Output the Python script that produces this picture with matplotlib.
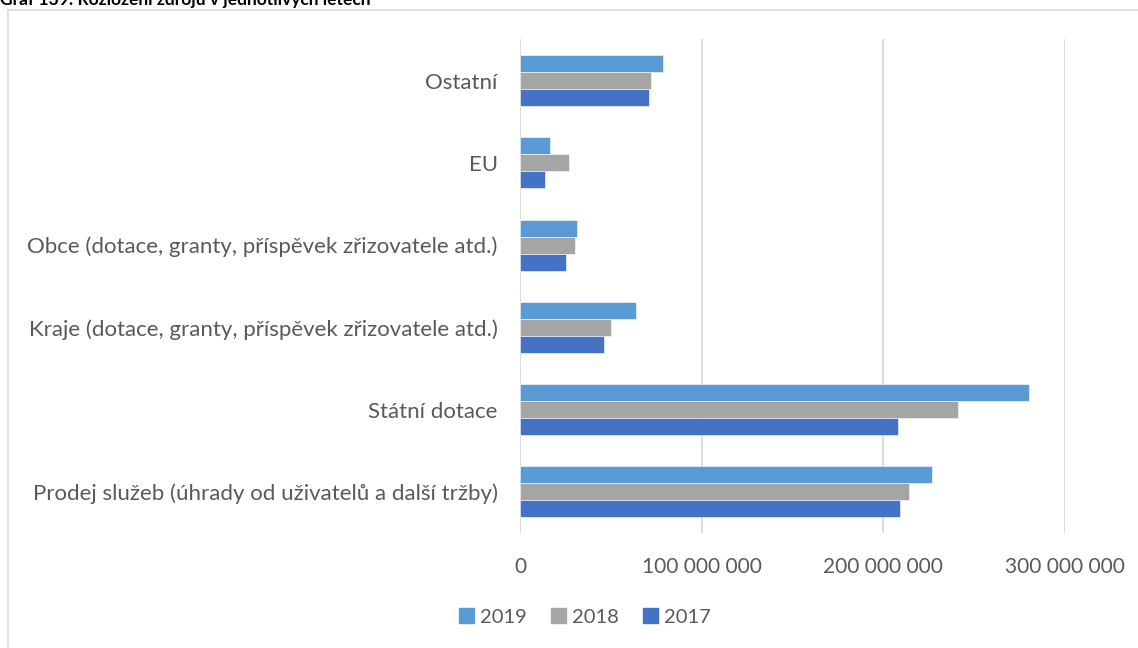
import numpy as np
import matplotlib
matplotlib.use("Agg")
import matplotlib.pyplot as plt
import matplotlib.patches as mpatches
import matplotlib.ticker as plticker

# data
categories = ["Prodej služeb (úhrady od uživatelů a další tržby)",
              "Státní dotace",
              "Kraje (dotace, granty, příspěvek zřizovatele atd.)",
              "Obce (dotace, granty, příspěvek zřizovatele atd.)",
              "EU",
              "Ostatní"]
years = ["2019", "2018", "2017"]
vals_2019 = [226.6e6, 280.1e6, 63.9e6, 31.2e6, 16.3e6, 78.6e6]
vals_2018 = [214.2e6, 241.3e6, 50.0e6, 30.1e6, 27.1e6, 72.2e6]
vals_2017 = [209.3e6, 208.1e6, 46.3e6, 25.3e6, 14.0e6, 70.9e6]
colors = {"2019": "#5B9BD5", "2018": "#A5A5A5", "2017": "#4472C4"}

plt.rcParams['font.family'] = ['Lato', 'DejaVu Sans']
txtcol = "#595959"

W, H = 1138, 648
fig = plt.figure(figsize=(W/100, H/100), dpi=100)

# chart frame
fig.patches.append(mpatches.Rectangle((8/W, -0.1), 1.2, 1 - 10/H + 0.1, transform=fig.transFigure,
                                      fill=False, edgecolor="#D9D9D9", linewidth=1.2))
# title is partly cut by the top edge, as in the source image
fig.text(0.0, 1 - 5/H, "Graf 139: Rozložení zdrojů v jednotlivých letech", fontsize=12.5,
         fontweight="bold", va="baseline", ha="left", color="#000000")

ax = fig.add_axes([520/W, 1 - 533/H, (1065-520)/W, (533-39.4)/H])
y = np.arange(len(categories))
h = 0.207
ax.barh(y + h, vals_2019, height=h, color=colors["2019"], edgecolor="white", linewidth=0.4, zorder=3)
ax.barh(y, vals_2018, height=h, color=colors["2018"], edgecolor="white", linewidth=0.4, zorder=3)
ax.barh(y - h, vals_2017, height=h, color=colors["2017"], edgecolor="white", linewidth=0.4, zorder=3)

ax.set_xlim(0, 300e6)
ax.set_ylim(-0.5, len(categories) - 0.5)
ax.xaxis.set_major_locator(plticker.MultipleLocator(100e6))
ax.xaxis.set_major_formatter(plticker.FuncFormatter(lambda v, p: f"{int(v):,}".replace(",", " ")))
ax.grid(axis="x", color="#D9D9D9", linewidth=1.3, zorder=0)
ax.set_yticks(y)
ax.set_yticklabels(categories)
for s in ax.spines.values():
    s.set_visible(False)
ax.tick_params(axis="y", length=0, labelsize=16, colors=txtcol, pad=16)
ax.tick_params(axis="x", length=0, labelsize=15, colors=txtcol, pad=17)

handles = [mpatches.Patch(color=colors[yr], label=yr) for yr in years]
fig.legend(handles=handles, loc="center", bbox_to_anchor=(585/W, 1 - 617/H), ncol=3, frameon=False,
           fontsize=14.5, labelcolor=txtcol, handlelength=0.75, handleheight=0.75, handletextpad=0.3,
           columnspacing=1.2)

fig.savefig("out.png", dpi=100)
